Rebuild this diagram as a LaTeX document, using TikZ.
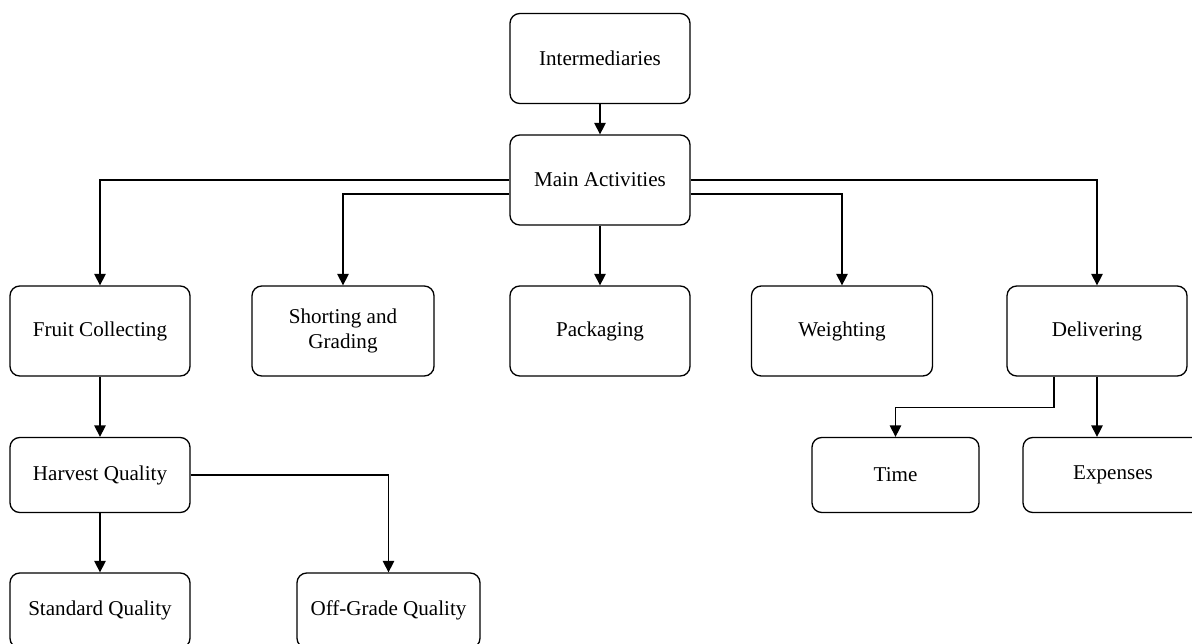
\documentclass[tikz,border=0pt]{standalone}
\usepackage{fontspec}
\setmainfont{Liberation Serif}
\usetikzlibrary{arrows.meta}
\begin{document}
\begin{tikzpicture}[x=0.02cm,y=-0.02cm,
    box/.style={draw,line width=0.75pt,rounded corners=5.5pt,align=center,
        minimum width=3.6cm,minimum height=1.8cm,font=\fontsize{12}{14}\selectfont},
    small/.style={box,minimum height=1.5cm},
    arr/.style={line width=0.75pt,-{Triangle[width=6.5pt,length=6.5pt]}}]
        %% Frame, cut like the original
        \useasboundingbox (0,0) rectangle (1192,643);
        \clip (0,0) rectangle (1192,643);
        %% Top
        \node[box] (inter) at (600,58.5) {Intermediaries};
        \node[box] (main) at (600,180) {Main Activities};
        %% Activities
        \node[box] (fruit) at (100,331) {Fruit Collecting};
        \node[box,minimum width=3.64cm] (sort) at (343,331) {Shorting and\\Grading};
        \node[box] (pack) at (600,331) {Packaging};
        \node[box,minimum width=3.62cm] (weight) at (842,331) {Weighting};
        \node[box] (deliver) at (1097,331) {Delivering};
        %% Quality branch
        \node[small] (harvest) at (100,475) {Harvest Quality};
        \node[small] (standard) at (100,610.5) {Standard Quality};
        \node[small,minimum width=3.66cm] (offgrade) at (388.5,610.5) {Off-Grade Quality};
        %% Delivering branch
        \node[small,minimum width=3.34cm] (time) at (895.5,475) {Time};
        \node[small] (expenses) at (1113,475) {Expenses};
        %% Connectors
        \draw[arr] (inter) -- (main);
        \draw[arr] (main.west) -| (fruit.north);
        \draw[arr] ([yshift=-0.28cm]main.west) -| (sort.north);
        \draw[arr] (main) -- (pack);
        \draw[arr] ([yshift=-0.28cm]main.east) -| (weight.north);
        \draw[arr] (main.east) -| (deliver.north);
        \draw[arr] (fruit) -- (harvest);
        \draw[arr] (harvest) -- (standard);
        \draw[arr] (harvest.east) -| (offgrade.north);
        \draw[arr] ([xshift=-0.86cm]deliver.south) -- ++(0,31) -| (time.north);
        \draw[arr] (deliver.south) -- (deliver.south |- expenses.north);
\end{tikzpicture}
\end{document}
